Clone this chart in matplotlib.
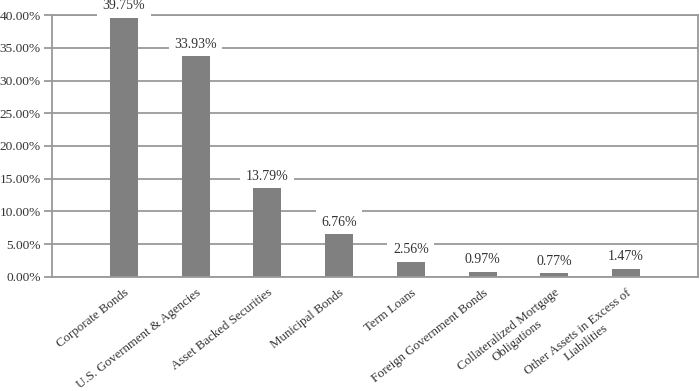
import numpy as np
import matplotlib.pyplot as plt
from matplotlib.ticker import PercentFormatter

# portfolio allocation (% of net assets)
categories = ['Corporate Bonds', 'U.S. Government & Agencies', 'Asset Backed Securities',
              'Municipal Bonds', 'Term Loans', 'Foreign Government Bonds',
              'Collateralized Mortgage\nObligations', 'Other Assets in Excess of\nLiabilities']
values = [39.75, 33.93, 13.79, 6.76, 2.56, 0.97, 0.77, 1.47]
yticks = [0, 5, 10, 15, 20, 25, 30, 35, 40]

plt.rcParams['font.family'] = 'Liberation Serif'
grid_col = '#9a9a9a'
txt_col = '#333333'

fig = plt.figure(figsize=(7, 3.91), dpi=100)
ax = fig.add_axes([0.0743, 0.2916, 0.9227, 0.67])

x = np.arange(len(categories))
bars = ax.bar(x, values, width=0.39, color='#808080', zorder=2)

ax.set_xlim(-1, len(categories))
ax.set_ylim(0, 40)
ax.set_yticks(yticks)
ax.yaxis.set_major_formatter(PercentFormatter(decimals=2))
ax.grid(axis='y', color=grid_col, linewidth=1.3, zorder=0)
ax.set_axisbelow(True)

for s in ['left', 'right', 'bottom', 'top']:
    ax.spines[s].set_color(grid_col)
    ax.spines[s].set_linewidth(1.3)
ax.tick_params(axis='y', length=6, width=1.3, color=grid_col, labelsize=9.6,
               labelcolor=txt_col, pad=2)
ax.tick_params(axis='x', length=0, labelsize=9.3, labelcolor=txt_col, pad=7)

ax.set_xticks(x)
ax.set_xticklabels(categories, rotation=38, ha='right', va='top',
                   rotation_mode='anchor', multialignment='center')

for b, v in zip(bars, values):
    ax.annotate(f'{v:.2f}%', (b.get_x() + b.get_width() / 2, v),
                xytext=(0, 3), textcoords='offset points', ha='center', va='bottom',
                fontsize=10, color=txt_col, zorder=3, annotation_clip=False,
                bbox=dict(boxstyle='square,pad=0.4', fc='white', ec='none'))

fig.savefig('out.png', dpi=100)
